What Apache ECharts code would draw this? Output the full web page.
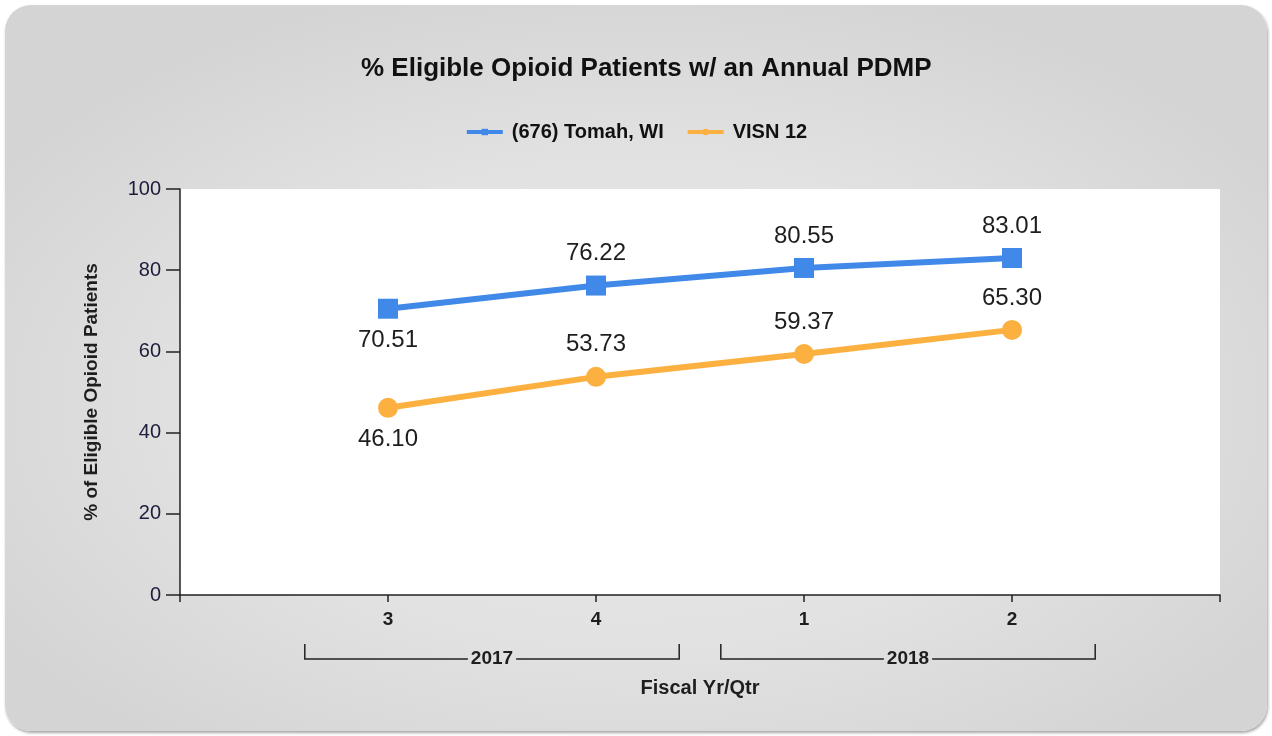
<!DOCTYPE html>
<html>
<head>
<meta charset="utf-8">
<script src="https://cdn.jsdelivr.net/npm/echarts@6/dist/echarts.min.js"></script>
<style>
  html, body { margin: 0; padding: 0; background: #ffffff; width: 1272px; height: 736px; overflow: hidden; }
  #panel {
    position: absolute; left: 5px; top: 5px; width: 1262px; height: 726px;
    border-radius: 26px;
    background: radial-gradient(ellipse 60% 60% at 50% 55%, #e7e7e7 0%, #e2e2e2 55%, #d4d4d4 100%);
    box-shadow: 1px 2px 3px rgba(0,0,0,0.35);
  }
  #chart { position: absolute; left: 0; top: 0; width: 1272px; height: 736px; }
</style>
</head>
<body>
<div id="panel"></div>
<div id="chart"></div>
<script>
// ---- data ----
const chartTitle = '% Eligible Opioid Patients w/ an Annual PDMP';
const quarters = ['3', '4', '1', '2'];
const fiscalYears = ['2017', '2017', '2018', '2018'];
const seriesNames = ['(676) Tomah, WI', 'VISN 12'];
const tomahValues = [70.51, 76.22, 80.55, 83.01];
const visnValues = [46.10, 53.73, 59.37, 65.30];
const yTicks = [0, 20, 40, 60, 80, 100];
const xAxisTitle = 'Fiscal Yr/Qtr';
const yAxisTitle = '% of Eligible Opioid Patients';

// padded category list (empty slot at each end)
const categories = [''].concat(quarters, ['']);
const pad = arr => [null].concat(arr, [null]);

const FONT = "'Liberation Sans', Arial, sans-serif";
const BLUE = '#4189E8';
const ORANGE = '#FBB040';
const TXT = '#1e1e1e';

const chart = echarts.init(document.getElementById('chart'), null, { renderer: 'canvas' });

function fmt(params) { return params.value == null ? '' : Number(params.value).toFixed(2); }

function makeData(values, belowIdx) {
  return pad(values).map((v, i) => {
    if (v == null) return null;
    const below = belowIdx.indexOf(i - 1) >= 0;
    return { value: v, label: { position: below ? 'bottom' : 'top' } };
  });
}

const option = {
  animation: false,
  title: {
    text: chartTitle,
    left: 356,
    top: 51,
    textStyle: { fontFamily: FONT, fontWeight: 'bold', fontSize: 26, color: '#111' }
  },
  legend: {
    top: 117,
    left: 'center',
    itemWidth: 36,
    itemHeight: 8,
    itemGap: 22,
    lineStyle: { width: 4 },
    textStyle: { fontFamily: FONT, fontWeight: 'bold', fontSize: 20, color: '#111', padding: [0, 0, 0, 4] },
    data: seriesNames
  },
  grid: {
    left: 180, right: 52, top: 189, bottom: 141,
    show: true, backgroundColor: '#ffffff', borderWidth: 0
  },
  xAxis: {
    type: 'category',
    data: categories,
    boundaryGap: false,
    name: xAxisTitle,
    nameLocation: 'middle',
    nameGap: 83,
    nameTextStyle: { fontFamily: FONT, fontWeight: 'bold', fontSize: 20, color: TXT },
    axisLine: { lineStyle: { color: '#222', width: 1.5 } },
    axisTick: { show: true, alignWithLabel: true, length: 7, lineStyle: { color: '#222', width: 1.5 } },
    axisLabel: { interval: 0, margin: 15, fontFamily: FONT, fontWeight: 'bold', fontSize: 19, color: TXT },
    splitLine: { show: false }
  },
  yAxis: {
    type: 'value',
    min: yTicks[0],
    max: yTicks[yTicks.length - 1],
    interval: yTicks[1] - yTicks[0],
    name: yAxisTitle,
    nameLocation: 'middle',
    nameGap: 79,
    nameRotate: 90,
    nameTextStyle: { fontFamily: FONT, fontWeight: 'bold', fontSize: 19, color: TXT },
    axisLine: { show: true, lineStyle: { color: '#222', width: 1.5 } },
    axisTick: { show: true, length: 14, lineStyle: { color: '#222', width: 1.5 } },
    axisLabel: { margin: 19, fontFamily: FONT, fontSize: 20, color: '#1c1c3c' },
    splitLine: { show: false }
  },
  series: [
    {
      name: seriesNames[0],
      type: 'line',
      data: makeData(tomahValues, [0]),
      symbol: 'rect',
      symbolSize: 20,
      lineStyle: { color: BLUE, width: 6 },
      itemStyle: { color: BLUE },
      label: { show: true, distance: 10, formatter: fmt, fontFamily: FONT, fontSize: 24, color: TXT },
      z: 3
    },
    {
      name: seriesNames[1],
      type: 'line',
      data: makeData(visnValues, [0]),
      symbol: 'circle',
      symbolSize: 20,
      lineStyle: { color: ORANGE, width: 6 },
      itemStyle: { color: ORANGE },
      label: { show: true, distance: 10, formatter: fmt, fontFamily: FONT, fontSize: 24, color: TXT },
      z: 2
    }
  ]
};

chart.setOption(option);

// ---- year group brackets under the quarter labels, positioned from the axis scale ----
(function drawBrackets() {
  const px = i => chart.convertToPixel({ xAxisIndex: 0 }, i);
  const step = px(2) - px(1);
  const yTop = 644, yLine = 659;
  const ctx = document.createElement('canvas').getContext('2d');
  ctx.font = 'bold 19px ' + FONT;
  const groups = [];
  fiscalYears.forEach((y, i) => {
    const g = groups[groups.length - 1];
    if (g && g.year === y) g.last = i; else groups.push({ year: y, first: i, last: i });
  });
  const elements = [];
  const stroke = { stroke: '#222', lineWidth: 1.5 };
  groups.forEach(g => {
    const x0 = px(g.first + 1) - 0.4 * step;
    const x1 = px(g.last + 1) + 0.4 * step;
    const cx = (x0 + x1) / 2;
    const tw = ctx.measureText(g.year).width;
    const gap = tw / 2 + 3;
    elements.push({ type: 'polyline', shape: { points: [[x0, yTop], [x0, yLine], [cx - gap, yLine]] }, style: stroke, silent: true });
    elements.push({ type: 'polyline', shape: { points: [[cx + gap, yLine], [x1, yLine], [x1, yTop]] }, style: stroke, silent: true });
    elements.push({
      type: 'text', x: cx, y: yLine, silent: true,
      style: { text: g.year, fontFamily: FONT, fontWeight: 'bold', fontSize: 19, fill: TXT, align: 'center', verticalAlign: 'middle' }
    });
  });
  chart.setOption({ graphic: elements });
})();
</script>
</body>
</html>
